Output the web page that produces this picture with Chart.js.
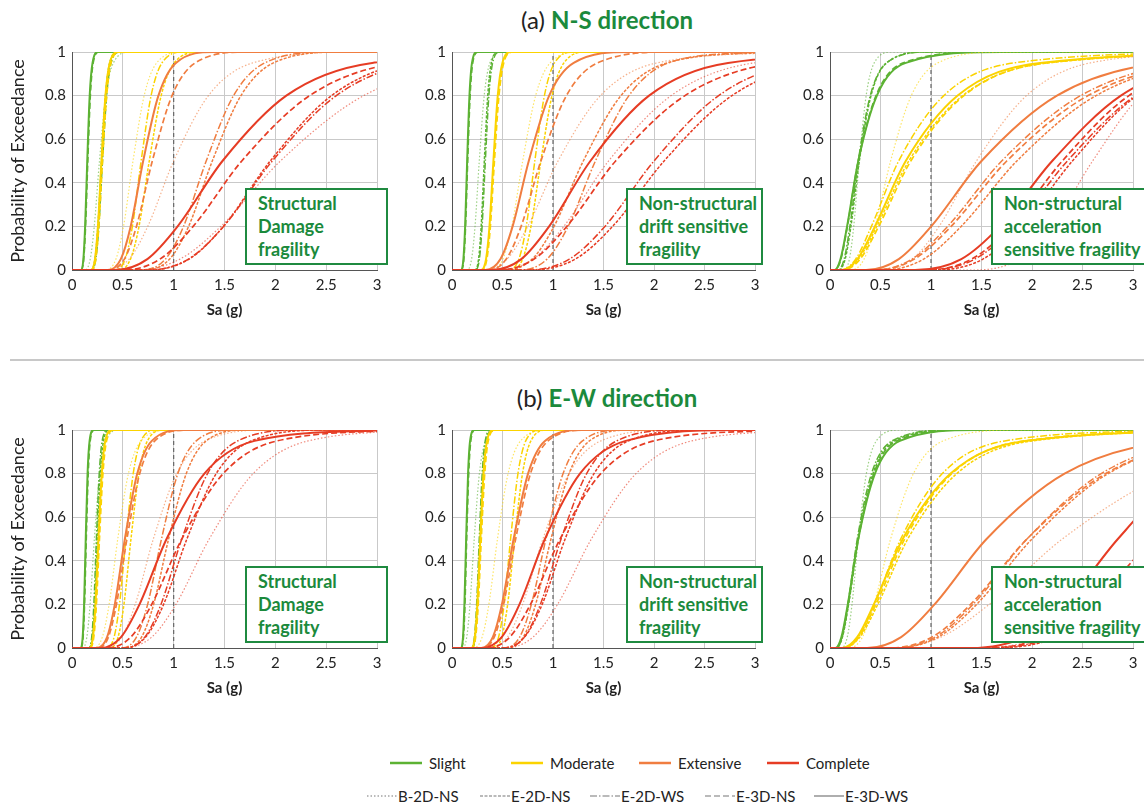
<!DOCTYPE html>
<html>
<head>
<meta charset="utf-8">
<script src="https://cdn.jsdelivr.net/npm/chart.js@4.4.1/dist/chart.umd.min.js"></script>
<style>
  body { margin: 0; background: #fff; font-family: Lato, sans-serif; overflow: hidden; }
  #fig { position: relative; width: 1144px; height: 805px; overflow: hidden; }
  canvas { position: absolute; }
  .title { position: absolute; transform: translateX(-50%); font-size: 24px; color: #222; white-space: nowrap; }
  .title b { color: #1b8a3c; }
  .note { position: absolute; background: #fff; border: 2px solid #1f8a40; color: #1b8a3c; font-weight: bold;
          font-size: 18px; line-height: 23px; padding: 2px 0 0 11px; box-sizing: border-box; height: 77px; white-space: nowrap; }
  .sep { position: absolute; left: 10px; top: 359px; width: 1134px; height: 2px; background: #c8c8c8; }
  .leg { position: absolute; color: #222; white-space: nowrap; display: flex; align-items: center; font-size: 15px; }
  .leg svg { display: block; }
</style>
</head>
<body>
<div id="fig">
  <div class="title" style="left:607px;top:5px">(a) <b>N-S direction</b></div>
  <div class="sep"></div>
  <div class="title" style="left:607px;top:383px">(b) <b>E-W direction</b></div>
  <canvas id="c1" width="390" height="290"></canvas>
  <canvas id="c2" width="370" height="290"></canvas>
  <canvas id="c3" width="366" height="290"></canvas>
  <canvas id="c4" width="390" height="290"></canvas>
  <canvas id="c5" width="370" height="290"></canvas>
  <canvas id="c6" width="366" height="290"></canvas>
</div>
<script>
// axis ticks
const saTicks = [0, 0.5, 1, 1.5, 2, 2.5, 3];
const probTicks = [0, 0.2, 0.4, 0.6, 0.8, 1];
const refSa = 1;

const damageStates = ["Slight", "Moderate", "Extensive", "Complete"];
const buildingTypes = ["B-2D-NS", "E-2D-NS", "E-2D-WS", "E-3D-NS", "E-3D-WS"];

// probability of exceedance levels; each curve row below lists Sa (g) where it reaches them
const probLevels = [0, 0.05, 0.2, 0.5, 0.8, 0.95, 1];

// (a) N-S, structural damage  (rows: B-2D-NS, E-2D-NS, E-2D-WS, E-3D-NS, E-3D-WS)
const nsStrSlight = [
  [0.127, 0.179, 0.219, 0.27, 0.333, 0.407, 0.572],
  [0.185, 0.226, 0.255, 0.29, 0.329, 0.371, 0.455],
  [0.191, 0.234, 0.264, 0.30, 0.341, 0.384, 0.470],
  [0.090, 0.115, 0.133, 0.155, 0.180, 0.208, 0.266],
  [0.087, 0.112, 0.129, 0.15, 0.174, 0.202, 0.257]
];
const nsStrModerate = [
  [0.329, 0.432, 0.507, 0.60, 0.710, 0.833, 1.093],
  [0.456, 0.575, 0.659, 0.76, 0.877, 1.005, 1.265],
  [0.421, 0.523, 0.594, 0.68, 0.778, 0.885, 1.099],
  [0.191, 0.234, 0.264, 0.30, 0.341, 0.384, 0.470],
  [0.185, 0.226, 0.255, 0.29, 0.329, 0.371, 0.455]
];
const nsStrExtensive = [
  [0.350, 0.562, 0.745, 1.00, 1.342, 1.778, 2.858],
  [0.713, 0.960, 1.147, 1.38, 1.662, 1.982, 2.670],
  [0.682, 0.919, 1.097, 1.32, 1.589, 1.896, 2.554],
  [0.362, 0.515, 0.634, 0.79, 0.984, 1.212, 1.723],
  [0.351, 0.480, 0.577, 0.70, 0.850, 1.022, 1.396]
];
const nsStrComplete = [
  [0.617, 1.062, 1.464, 2.05, 2.870, 3.959, 6.806],
  [0.747, 1.152, 1.490, 1.95, 2.553, 3.301, 5.093],
  [0.733, 1.145, 1.491, 1.97, 2.600, 3.388, 5.301],
  [0.503, 0.865, 1.192, 1.67, 2.338, 3.225, 5.544],
  [0.420, 0.741, 1.039, 1.48, 2.108, 2.953, 5.217]
];

// (a) N-S, non-structural drift sensitive
const nsDriftSlight = [
  [0.148, 0.194, 0.228, 0.27, 0.319, 0.375, 0.492],
  [0.223, 0.263, 0.289, 0.32, 0.354, 0.390, 0.459],
  [0.230, 0.271, 0.298, 0.33, 0.365, 0.402, 0.473],
  [0.093, 0.117, 0.134, 0.155, 0.179, 0.205, 0.258],
  [0.090, 0.113, 0.130, 0.15, 0.173, 0.198, 0.250]
];
const nsDriftModerate = [
  [0.384, 0.504, 0.592, 0.70, 0.828, 0.972, 1.275],
  [0.578, 0.699, 0.782, 0.88, 0.990, 1.108, 1.339],
  [0.555, 0.662, 0.735, 0.82, 0.915, 1.015, 1.211],
  [0.293, 0.345, 0.380, 0.42, 0.465, 0.512, 0.602],
  [0.286, 0.337, 0.371, 0.41, 0.453, 0.499, 0.588]
];
const nsDriftExtensive = [
  [0.316, 0.544, 0.750, 1.05, 1.470, 2.028, 3.486],
  [0.529, 0.793, 1.010, 1.30, 1.673, 2.129, 3.198],
  [0.670, 0.941, 1.150, 1.42, 1.752, 2.143, 3.006],
  [0.358, 0.537, 0.684, 0.88, 1.133, 1.441, 2.165],
  [0.328, 0.480, 0.600, 0.76, 0.962, 1.205, 1.760]
];
const nsDriftComplete = [
  [0.467, 0.803, 1.107, 1.55, 2.170, 2.993, 5.146],
  [0.781, 1.220, 1.590, 2.10, 2.772, 3.612, 5.651],
  [0.744, 1.162, 1.514, 2.00, 2.640, 3.440, 5.382],
  [0.460, 0.812, 1.137, 1.62, 2.307, 3.232, 5.711],
  [0.389, 0.686, 0.962, 1.37, 1.951, 2.733, 4.829]
];

// (a) N-S, non-structural acceleration sensitive
const nsAccSlight = [
  [0.137, 0.192, 0.235, 0.29, 0.358, 0.438, 0.614],
  [0.087, 0.150, 0.207, 0.29, 0.406, 0.560, 0.963],
  [0.080, 0.140, 0.197, 0.28, 0.399, 0.559, 0.987],
  [0.049, 0.108, 0.172, 0.28, 0.456, 0.727, 1.595],
  [0.046, 0.104, 0.169, 0.28, 0.464, 0.751, 1.694]
];
const nsAccModerate = [
  [0.210, 0.337, 0.447, 0.60, 0.805, 1.067, 1.715],
  [0.122, 0.282, 0.463, 0.78, 1.314, 2.162, 5.008],
  [0.112, 0.254, 0.410, 0.68, 1.127, 1.824, 4.114],
  [0.132, 0.298, 0.482, 0.80, 1.326, 2.146, 4.840],
  [0.117, 0.271, 0.445, 0.75, 1.264, 2.079, 4.815]
];
const nsAccExtensive = [
  [0.508, 0.815, 1.080, 1.45, 1.946, 2.578, 4.144],
  [0.525, 0.927, 1.299, 1.85, 2.634, 3.691, 6.521],
  [0.440, 0.811, 1.165, 1.70, 2.482, 3.563, 6.557],
  [0.453, 0.835, 1.199, 1.75, 2.555, 3.668, 6.750],
  [0.356, 0.681, 1.002, 1.50, 2.247, 3.305, 6.332]
];
const nsAccComplete = [
  [1.427, 1.872, 2.197, 2.60, 3.076, 3.611, 4.737],
  [1.037, 1.514, 1.896, 2.40, 3.038, 3.804, 5.558],
  [0.956, 1.434, 1.826, 2.35, 3.024, 3.849, 5.781],
  [0.936, 1.403, 1.787, 2.30, 2.960, 3.767, 5.658],
  [0.843, 1.300, 1.681, 2.20, 2.880, 3.725, 5.746]
];

// (b) E-W, structural damage
const ewStrSlight = [
  [0.104, 0.146, 0.178, 0.22, 0.271, 0.332, 0.466],
  [0.169, 0.202, 0.224, 0.25, 0.279, 0.310, 0.369],
  [0.162, 0.194, 0.215, 0.24, 0.268, 0.297, 0.354],
  [0.089, 0.109, 0.123, 0.14, 0.159, 0.179, 0.220],
  [0.086, 0.105, 0.119, 0.135, 0.153, 0.173, 0.212]
];
const ewStrModerate = [
  [0.212, 0.298, 0.365, 0.45, 0.555, 0.679, 0.953],
  [0.370, 0.453, 0.511, 0.58, 0.658, 0.742, 0.909],
  [0.338, 0.414, 0.467, 0.53, 0.602, 0.678, 0.831],
  [0.177, 0.214, 0.240, 0.27, 0.304, 0.340, 0.411],
  [0.171, 0.206, 0.231, 0.26, 0.293, 0.327, 0.396]
];
const ewStrExtensive = [
  [0.326, 0.488, 0.622, 0.80, 1.030, 1.310, 1.968],
  [0.522, 0.684, 0.803, 0.95, 1.124, 1.320, 1.731],
  [0.483, 0.634, 0.744, 0.88, 1.041, 1.222, 1.603],
  [0.255, 0.358, 0.437, 0.54, 0.666, 0.815, 1.143],
  [0.245, 0.345, 0.421, 0.52, 0.642, 0.785, 1.101]
];
const ewStrComplete = [
  [0.502, 0.784, 1.022, 1.35, 1.782, 2.322, 3.633],
  [0.503, 0.724, 0.901, 1.13, 1.418, 1.762, 2.540],
  [0.510, 0.716, 0.875, 1.08, 1.333, 1.630, 2.286],
  [0.346, 0.578, 0.784, 1.08, 1.487, 2.017, 3.377],
  [0.280, 0.482, 0.664, 0.93, 1.302, 1.796, 3.088]
];

// (b) E-W, non-structural drift sensitive
const ewDriftSlight = [
  [0.104, 0.146, 0.178, 0.22, 0.271, 0.332, 0.466],
  [0.195, 0.230, 0.253, 0.28, 0.310, 0.341, 0.401],
  [0.188, 0.222, 0.244, 0.27, 0.299, 0.329, 0.387],
  [0.093, 0.113, 0.128, 0.145, 0.165, 0.186, 0.227],
  [0.089, 0.109, 0.123, 0.14, 0.159, 0.179, 0.220]
];
const ewDriftModerate = [
  [0.212, 0.298, 0.365, 0.45, 0.555, 0.679, 0.953],
  [0.407, 0.492, 0.551, 0.62, 0.698, 0.781, 0.944],
  [0.381, 0.461, 0.516, 0.58, 0.653, 0.730, 0.883],
  [0.196, 0.234, 0.260, 0.29, 0.324, 0.359, 0.428],
  [0.190, 0.226, 0.251, 0.28, 0.312, 0.347, 0.414]
];
const ewDriftExtensive = [
  [0.366, 0.549, 0.699, 0.90, 1.158, 1.474, 2.214],
  [0.538, 0.706, 0.828, 0.98, 1.159, 1.361, 1.786],
  [0.511, 0.670, 0.786, 0.93, 1.100, 1.292, 1.694],
  [0.297, 0.418, 0.510, 0.63, 0.777, 0.951, 1.334],
  [0.288, 0.404, 0.494, 0.61, 0.753, 0.920, 1.291]
];
const ewDriftComplete = [
  [0.513, 0.802, 1.045, 1.38, 1.822, 2.374, 3.714],
  [0.498, 0.718, 0.893, 1.12, 1.406, 1.746, 2.518],
  [0.510, 0.716, 0.875, 1.08, 1.333, 1.630, 2.286],
  [0.342, 0.572, 0.777, 1.07, 1.473, 1.999, 3.346],
  [0.294, 0.492, 0.668, 0.92, 1.267, 1.719, 2.877]
];

// (b) E-W, non-structural acceleration sensitive
const ewAccSlight = [
  [0.114, 0.171, 0.218, 0.28, 0.360, 0.459, 0.689],
  [0.062, 0.123, 0.184, 0.28, 0.426, 0.637, 1.255],
  [0.060, 0.119, 0.177, 0.27, 0.411, 0.615, 1.210],
  [0.059, 0.119, 0.181, 0.28, 0.434, 0.659, 1.333],
  [0.054, 0.113, 0.176, 0.28, 0.445, 0.692, 1.458]
];
const ewAccModerate = [
  [0.192, 0.321, 0.436, 0.60, 0.826, 1.121, 1.876],
  [0.136, 0.296, 0.473, 0.77, 1.255, 2.000, 4.387],
  [0.134, 0.284, 0.440, 0.70, 1.112, 1.730, 3.645],
  [0.130, 0.285, 0.454, 0.74, 1.206, 1.922, 4.216],
  [0.119, 0.269, 0.434, 0.72, 1.194, 1.932, 4.356]
];
const ewAccExtensive = [
  [0.596, 1.097, 1.576, 2.30, 3.358, 4.821, 8.871],
  [0.640, 1.070, 1.452, 2.00, 2.754, 3.736, 6.254],
  [0.624, 1.043, 1.416, 1.95, 2.685, 3.643, 6.098],
  [0.587, 1.010, 1.392, 1.95, 2.730, 3.765, 6.474],
  [0.367, 0.704, 1.035, 1.55, 2.322, 3.415, 6.543]
];
const ewAccComplete = [
  [1.425, 2.135, 2.720, 3.50, 4.505, 5.733, 8.610],
  [1.605, 2.254, 2.754, 3.40, 4.196, 5.131, 7.198],
  [1.558, 2.188, 2.673, 3.30, 4.072, 4.980, 6.986],
  [1.510, 2.122, 2.592, 3.20, 3.949, 4.829, 6.774],
  [1.388, 1.921, 2.328, 2.85, 3.488, 4.229, 5.854]
];

// styles
const stateColors = ["#5cb233", "#fbd300", "#f07d40", "#e63c24"];
const typeStyle = [
  { dash: [1.5, 2], width: 1.2, alpha: 0.6 },
  { dash: [3, 1.5], width: 1.5, alpha: 1 },
  { dash: [7, 2, 1.5, 2], width: 1.5, alpha: 1 },
  { dash: [6, 3], width: 1.7, alpha: 1 },
  { dash: [], width: 2, alpha: 1 }
];
const FONT = "Lato, 'Noto Sans', sans-serif";

function withAlpha(hex, a) {
  const n = parseInt(hex.slice(1), 16);
  return `rgba(${n >> 16},${(n >> 8) & 255},${n & 255},${a})`;
}

function curvePoints(row) {
  const pts = [{ x: 0, y: 0 }];
  row.forEach((sa, i) => pts.push({ x: sa, y: probLevels[i] }));
  const last = row[row.length - 1];
  if (last < saTicks[saTicks.length - 1]) pts.push({ x: saTicks[saTicks.length - 1], y: 1 });
  return pts;
}

const panels = [
  { id: "c1", left: 0, top: 37, yw: 72, padR: 13, yTitle: true, sets: [nsStrSlight, nsStrModerate, nsStrExtensive, nsStrComplete],
    note: ["Structural", "Damage", "fragility"], box: [245, 188, 143] },
  { id: "c2", left: 400, top: 37, yw: 52, padR: 15, yTitle: false, sets: [nsDriftSlight, nsDriftModerate, nsDriftExtensive, nsDriftComplete],
    note: ["Non-structural", "drift sensitive", "fragility"], box: [626, 188, 137] },
  { id: "c3", left: 778, top: 37, yw: 52, padR: 11, yTitle: false, sets: [nsAccSlight, nsAccModerate, nsAccExtensive, nsAccComplete],
    note: ["Non-structural", "acceleration", "sensitive fragility"], box: [991, 188, 160] },
  { id: "c4", left: 0, top: 415, yw: 72, padR: 13, yTitle: true, sets: [ewStrSlight, ewStrModerate, ewStrExtensive, ewStrComplete],
    note: ["Structural", "Damage", "fragility"], box: [245, 566, 143] },
  { id: "c5", left: 400, top: 415, yw: 52, padR: 15, yTitle: false, sets: [ewDriftSlight, ewDriftModerate, ewDriftExtensive, ewDriftComplete],
    note: ["Non-structural", "drift sensitive", "fragility"], box: [626, 566, 137] },
  { id: "c6", left: 778, top: 415, yw: 52, padR: 11, yTitle: false, sets: [ewAccSlight, ewAccModerate, ewAccExtensive, ewAccComplete],
    note: ["Non-structural", "acceleration", "sensitive fragility"], box: [991, 566, 160] }
];

const fig = document.getElementById("fig");

panels.forEach(p => {
  const cv = document.getElementById(p.id);
  cv.style.left = p.left + "px";
  cv.style.top = p.top + "px";

  const datasets = [];
  let k = 0;
  p.sets.forEach((rows, s) => {
    rows.forEach((row, t) => {
      const st = typeStyle[t];
      datasets.push({
        label: damageStates[s] + " " + buildingTypes[t],
        data: curvePoints(row),
        borderColor: withAlpha(stateColors[s], st.alpha),
        borderWidth: st.width,
        borderDash: st.dash,
        cubicInterpolationMode: "monotone",
        pointRadius: 0,
        fill: false,
        order: -(++k)
      });
    });
  });
  datasets.push({
    label: "ref",
    data: [{ x: refSa, y: probTicks[0] }, { x: refSa, y: probTicks[probTicks.length - 1] }],
    borderColor: "#666",
    borderWidth: 1.2,
    borderDash: [4, 3],
    tension: 0,
    pointRadius: 0,
    order: 1
  });

  new Chart(cv.getContext("2d"), {
    type: "line",
    data: { datasets },
    options: {
      responsive: false,
      animation: false,
      layout: { padding: { left: 0, right: p.padR, top: 10, bottom: 0 } },
      plugins: { legend: { display: false }, tooltip: { enabled: false } },
      scales: {
        x: {
          type: "linear", min: 0, max: 3,
          afterBuildTicks: s => { s.ticks = saTicks.map(v => ({ value: v })); },
          afterFit: s => { s.height = 57; },
          grid: { color: "#c9c9c9", drawTicks: false },
          border: { color: "#555" },
          ticks: { padding: 6, autoSkip: false, maxRotation: 0, color: "#222", font: { size: 15, family: FONT }, callback: v => String(v) },
          title: { display: true, text: "Sa (g)", color: "#222", font: { size: 15, weight: "bold", family: FONT }, padding: { top: 0, bottom: 8 } }
        },
        y: {
          min: 0, max: 1,
          afterBuildTicks: s => { s.ticks = probTicks.map(v => ({ value: v })); },
          afterFit: s => { s.width = p.yw; },
          grid: { color: "#c9c9c9", drawTicks: false },
          border: { color: "#555" },
          ticks: { padding: 6, color: "#222", font: { size: 15, family: FONT }, callback: v => String(v) },
          title: { display: p.yTitle, text: "Probability of Exceedance", color: "#222", font: { size: 18, family: FONT }, padding: { top: 7, bottom: 0 } }
        }
      }
    }
  });

  const box = document.createElement("div");
  box.className = "note";
  box.style.left = p.box[0] + "px";
  box.style.top = p.box[1] + "px";
  box.style.width = p.box[2] + "px";
  box.innerHTML = p.note.join("<br>");
  fig.appendChild(box);
});

// legend: damage states (colour) and building types (line style)
function lineSvg(w, color, dash, width) {
  return `<svg width="${w}" height="8"><line x1="0" y1="4" x2="${w}" y2="4" stroke="${color}" stroke-width="${width}" stroke-dasharray="${dash.join(" ")}"/></svg>`;
}
const stateLegendX = [390, 511, 639, 767];
damageStates.forEach((name, i) => {
  const d = document.createElement("div");
  d.className = "leg";
  d.style.left = stateLegendX[i] + "px";
  d.style.top = "754px";
  d.innerHTML = lineSvg(32, stateColors[i], [], 2.5) + `<span style="margin-left:7px">${name}</span>`;
  fig.appendChild(d);
});
const typeLegendX = [367, 480, 590, 705, 814];
buildingTypes.forEach((name, i) => {
  const d = document.createElement("div");
  d.className = "leg";
  d.style.left = typeLegendX[i] + "px";
  d.style.top = "787px";
  d.innerHTML = lineSvg(30, "#777", typeStyle[i].dash, 1.2) + `<span style="margin-left:1px">${name}</span>`;
  fig.appendChild(d);
});
</script>
</body>
</html>
